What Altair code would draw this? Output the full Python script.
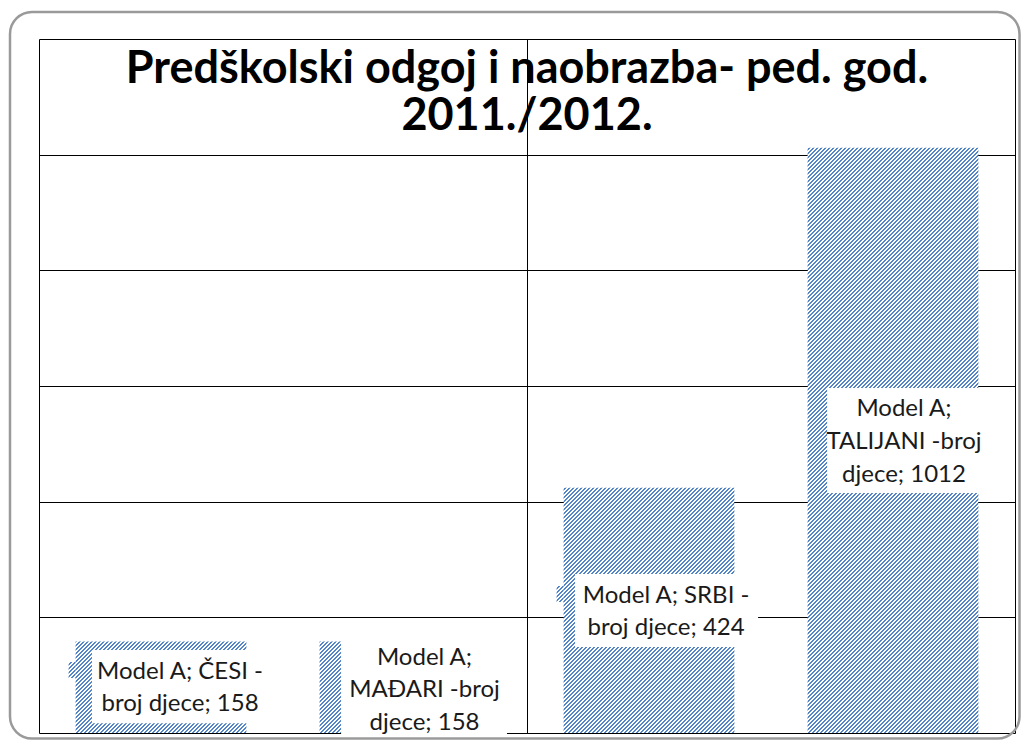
import math
import altair as alt
import pandas as pd

# ---- data -------------------------------------------------------------
categories = ["ČESI", "MAĐARI", "SRBI", "TALIJANI"]
values = [158, 158, 424, 1012]
label_lines = [
    ["Model A; ČESI -", "broj djece; 158"],
    ["Model A;", "MAĐARI -broj", "djece; 158"],
    ["Model A; SRBI -", "broj djece; 424"],
    ["Model A;", "TALIJANI -broj", "djece; 1012"],
]
title_lines = ["Predškolski odgoj i naobrazba- ped. god.", "2011./2012."]
y_grid = [0, 200, 400, 600, 800, 1000, 1200]

# ---- layout / style ---------------------------------------------------
W, H = 976, 694
PAD_L, PAD_T = 31, 31
Y_MAX = 1200
HALF = 0.35
BLUE = "#5585C9"
FONT = "Lato"
STEP = W / len(categories)

df = pd.DataFrame({"cat": categories, "value": values, "idx": list(range(len(categories)))})

xs = alt.Scale(domain=[-0.5, len(categories) - 0.5], nice=False, zero=False)
ys = alt.Scale(domain=[0, Y_MAX], nice=False)
X_AX = alt.Axis(values=[-0.5, 1.5, 3.5], grid=True, gridColor="#000000", gridOpacity=1, gridWidth=1,
                labels=False, ticks=False, domain=False, title=None)
Y_AX = alt.Axis(values=y_grid, grid=True, gridColor="#000000", gridOpacity=1, gridWidth=1,
                labels=False, ticks=False, domain=False, title=None)


def px_x(u):
    return (u + 0.5) * STEP


def px_y(v):
    return (Y_MAX - v) / Y_MAX * H


def hatch(x_lo, x_hi, v_lo, v_hi):
    """'/' hatch (2px blue, 2px white) as a striped linear gradient for a rect."""
    X0, Y0 = px_x(x_lo), px_y(v_hi)
    w = px_x(x_hi) - X0
    h = px_y(v_lo) - Y0
    t = (1 / h + 1 / w) / (1 / h ** 2 + 1 / w ** 2)
    L = 4 * math.ceil((w + h) / 4 + 1)
    sc = L / (w + h)
    s0 = X0 + Y0 + PAD_L + PAD_T + 16  # page coordinates
    r = (s0 - 0.5) % 4
    blue = r < 2
    b = 2 - (r % 2)
    stops = [alt.GradientStop(offset=0, color=BLUE if blue else "white")]
    while b < L:
        o = b / L
        stops.append(alt.GradientStop(offset=o, color=BLUE if blue else "white"))
        blue = not blue
        stops.append(alt.GradientStop(offset=o, color=BLUE if blue else "white"))
        b += 2
    stops.append(alt.GradientStop(offset=1, color=BLUE if blue else "white"))
    return alt.LinearGradient(gradient="linear", stops=stops, x1=0, y1=0,
                              x2=sc * t / h, y2=sc * t / w)


# outer rounded frame
frame = alt.Chart(pd.DataFrame({"a": [0]})).mark_rect(
    cornerRadius=22, fill="white", fillOpacity=0, stroke="#9a9a9a", strokeWidth=2.5
).encode(x=alt.value(-29), x2=alt.value(980.5), y=alt.value(-27), y2=alt.value(699.5))

# axes / grid
axes = alt.Chart(df).mark_point(opacity=0).encode(
    x=alt.X("idx:Q", scale=xs, axis=X_AX),
    y=alt.Y("value:Q", scale=ys, axis=Y_AX),
)

layers = [frame, axes]

for i, (c, v) in enumerate(zip(categories, values)):
    layers.append(
        alt.Chart(df).transform_filter(alt.datum.cat == c)
        .transform_calculate(x0=f"datum.idx - {HALF}", x1=f"datum.idx + {HALF}")
        .mark_rect(fill=hatch(i - HALF, i + HALF, 0, v), strokeWidth=0)
        .encode(x=alt.X("x0:Q", scale=xs, axis=X_AX), x2="x1:Q",
                y=alt.Y("value:Q", scale=ys, axis=Y_AX), y2=alt.datum(0))
    )

# small hatched notches at the left of two labels: (category index, width in x units, value range)
notches = [(0, 7 / STEP, 95.1, 122.8), (2, 7 / STEP, 226.5, 254.2)]
for i, nw, v0, v1 in notches:
    c = categories[i]
    layers.append(
        alt.Chart(df).transform_filter(alt.datum.cat == c)
        .transform_calculate(x0=f"datum.idx - {HALF} - {nw}", x1=f"datum.idx - {HALF}")
        .mark_rect(fill=hatch(i - HALF - nw, i - HALF, v0, v1), strokeWidth=0)
        .encode(x=alt.X("x0:Q", scale=xs, axis=X_AX), x2="x1:Q",
                y=alt.Y(datum=v0, scale=ys, axis=Y_AX), y2=alt.datum(v1))
    )

# label boxes: (box x offsets from bar centre, box y range, text x offset, first-line y, line height)
label_geom = [
    (-0.283, 0.439, 17, 143.5, 0.078, 106, 32.5),
    (-0.262, 0.418, -7, 161, 0.08, 130.5, 32.5),
    (-0.303, 0.447, 148.7, 275, 0.07, 237.5, 32),
    (-0.27, 0.357, 415, 596.6, 0.045, 561, 33.3),
]

for c, lines, (bx0, bx1, by0, by1, tx, ty, lh) in zip(categories, label_lines, label_geom):
    box = (
        alt.Chart(df).transform_filter(alt.datum.cat == c)
        .transform_calculate(bx0=f"datum.idx + ({bx0})", bx1=f"datum.idx + ({bx1})")
        .mark_rect(fill="white", strokeWidth=0)
        .encode(x=alt.X("bx0:Q", scale=xs, axis=X_AX), x2="bx1:Q",
                y=alt.Y(datum=by0, scale=ys, axis=Y_AX), y2=alt.datum(by1))
    )
    txt = (
        alt.Chart(df).transform_filter(alt.datum.cat == c)
        .transform_calculate(tx=f"datum.idx + ({tx})")
        .mark_text(text=lines, font=FONT, fontSize=24, lineHeight=lh, align="center",
                   baseline="middle", color="#1a1a1a")
        .encode(x=alt.X("tx:Q", scale=xs, axis=X_AX), y=alt.Y(datum=ty, scale=ys, axis=Y_AX))
    )
    layers += [box, txt]

title = alt.Chart(pd.DataFrame({"a": [0]})).mark_text(
    text=title_lines, font=FONT, fontSize=45, fontWeight="bold", lineHeight=47,
    align="center", baseline="middle", color="#000000"
).encode(x=alt.X(datum=1.5, scale=xs, axis=X_AX), y=alt.Y(datum=1148, scale=ys, axis=Y_AX))
layers.append(title)

chart = alt.layer(*layers).properties(
    width=W, height=H,
    padding={"left": PAD_L, "top": PAD_T, "right": 6, "bottom": 9},
    autosize=alt.AutoSizeParams(type="none"),
    background="white",
).configure_view(stroke=None)

chart.save("out.html", embed_options={"renderer": "svg", "actions": False})
